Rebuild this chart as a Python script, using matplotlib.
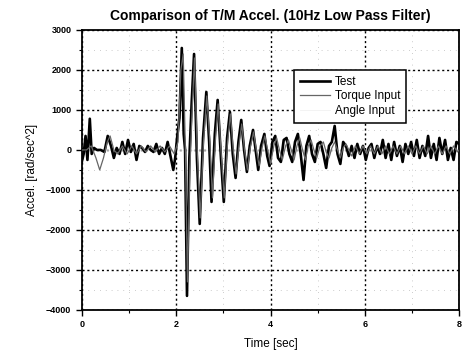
import matplotlib.pyplot as plt
from matplotlib.ticker import MultipleLocator

plt.rcParams['font.family'] = ['Liberation Sans', 'DejaVu Sans']

# Test (thick black line)
test_t = [0.00, 0.04, 0.08, 0.12, 0.17, 0.21, 0.26, 0.32, 0.40, 0.48, 0.55, 0.62, 0.68, 0.74,
          0.80, 0.86, 0.92, 0.98, 1.04, 1.10, 1.16, 1.22, 1.28, 1.34, 1.40, 1.46, 1.52, 1.58,
          1.64, 1.70, 1.76, 1.82, 1.88, 1.94, 1.98, 2.02, 2.07, 2.12, 2.16, 2.19, 2.23, 2.28,
          2.33, 2.38, 2.44, 2.50, 2.57, 2.64, 2.70, 2.75, 2.82, 2.88, 2.95, 3.01, 3.08, 3.14,
          3.20, 3.26, 3.32, 3.38, 3.44, 3.50, 3.56, 3.63, 3.69, 3.74, 3.80, 3.87, 3.93, 3.98,
          4.04, 4.10, 4.16, 4.22, 4.28, 4.34, 4.40, 4.46, 4.52, 4.58, 4.64, 4.70, 4.76, 4.82,
          4.88, 4.94, 5.00, 5.06, 5.12, 5.18, 5.24, 5.30, 5.36, 5.42, 5.48, 5.54, 5.60, 5.66,
          5.72, 5.78, 5.84, 5.90, 5.96, 6.02, 6.08, 6.14, 6.20, 6.26, 6.32, 6.38, 6.44, 6.50,
          6.56, 6.62, 6.68, 6.74, 6.80, 6.86, 6.92, 6.98, 7.04, 7.10, 7.16, 7.22, 7.28, 7.34,
          7.40, 7.46, 7.52, 7.58, 7.64, 7.70, 7.76, 7.82, 7.88, 7.94, 8.00]
test_v = [-300, -100, 350, -250, 780, -100, 50, 0, 0, -50, 350, 100, -200, 50,
          -100, 200, -100, 250, -50, 150, -250, 100, 50, -50, 100, 0, -50, 150,
          -100, 50, -100, 200, -150, -500, -200, 300, 800, 2550, 400, 0, -3650, -200,
          1200, 2400, -200, -1850, 300, 1450, 200, -1300, 400, 1250, -200, -1300, 300, 950,
          -100, -700, 200, 750, 0, -550, 100, 500, -50, -500, 100, 400, -150, -400,
          200, 350, -200, -300, 250, 300, -100, -300, 200, 400, -100, -750, 100, 350,
          -100, -300, 150, 200, -100, -450, 100, 200, 600, -100, -350, 200, 100, -150,
          100, -200, 150, -100, 100, -250, 50, 150, -200, 100, -100, 250, -200, 150,
          -250, 200, -150, 100, -300, 150, -100, 200, -150, 250, -200, 100, -150, 350,
          -200, 150, -250, 300, -100, 250, -250, 50, -250, 200, 150]

# Torque Input (thin gray line)
torque_t = [0.00, 0.10, 0.20, 0.30, 0.38, 0.46, 0.54, 0.60, 0.68, 0.76, 0.86, 0.96, 1.06, 1.16,
            1.26, 1.36, 1.46, 1.56, 1.66, 1.76, 1.86, 1.96, 2.04, 2.10, 2.15, 2.20, 2.24, 2.29,
            2.34, 2.39, 2.45, 2.51, 2.58, 2.65, 2.71, 2.77, 2.83, 2.89, 2.95, 3.02, 3.09, 3.15,
            3.21, 3.27, 3.33, 3.39, 3.45, 3.51, 3.57, 3.64, 3.70, 3.76, 3.82, 3.88, 3.94, 4.00,
            4.07, 4.13, 4.19, 4.25, 4.32, 4.38, 4.44, 4.50, 4.56, 4.62, 4.68, 4.74, 4.80, 4.86,
            4.92, 4.98, 5.05, 5.12, 5.18, 5.24, 5.30, 5.36, 5.42, 5.48, 5.54, 5.60, 5.66, 5.72,
            5.80, 5.88, 5.96, 6.04, 6.12, 6.20, 6.28, 6.36, 6.44, 6.52, 6.60, 6.68, 6.76, 6.84,
            6.92, 7.00, 7.08, 7.16, 7.24, 7.32, 7.40, 7.48, 7.56, 7.64, 7.72, 7.80, 7.88, 7.96,
            8.00]
torque_v = [0, 0, 100, -200, -500, -200, 200, 350, 0, -100, 100, -100, 100, -100,
            100, -50, 100, -50, 100, -50, 100, -100, 200, 2000, 2400, -200, -3300, -500,
            1000, 2300, -100, -1700, 200, 1350, 300, -1200, 200, 1150, 0, -1200, 200, 900,
            0, -600, 100, 650, 0, -500, 50, 450, 0, -400, 50, 350, 0, -350,
            100, 300, 0, -250, 100, 250, 0, -250, 100, 300, 0, -250, 100, 250,
            0, -200, 100, 200, -50, -200, 50, 200, 0, -200, 50, 150, 0, -150,
            100, -100, 100, -100, 100, -100, 100, -100, 100, -100, 100, -100, 100, -100,
            100, -100, 100, -100, 100, -100, 100, -100, 100, -100, 100, -100, 100, -50,
            0]

# Angle Input (barely visible in the scan)
angle_t = [0.0, 2.0, 4.0, 6.0, 8.0]
angle_v = [0, 0, 0, 0, 0]

fig = plt.figure(figsize=(4.62, 3.57), dpi=100)
ax = fig.add_axes([0.177, 0.132, 0.817, 0.784])

ax.plot(angle_t, angle_v, color="#eeeeee", lw=0.5, label="Angle Input", zorder=2)
ax.plot(test_t, test_v, color="black", lw=1.9, label="Test", zorder=3)
ax.plot(torque_t, torque_v, color="#666666", lw=0.9, label="Torque Input", zorder=4)

ax.set_xlim(0, 8)
ax.set_ylim(-4000, 3000)
ax.xaxis.set_major_locator(MultipleLocator(2))
ax.xaxis.set_minor_locator(MultipleLocator(1))
ax.yaxis.set_major_locator(MultipleLocator(1000))
ax.yaxis.set_minor_locator(MultipleLocator(500))

ax.grid(True, which="major", color="black", linestyle=(0, (1.5, 2)), lw=1.0)
ax.grid(True, which="minor", color="#bbbbbb", linestyle=(0, (1, 6)), lw=0.6)
ax.tick_params(which="major", length=4, width=1, labelsize=6.5)
ax.tick_params(which="minor", length=2, width=0.8)
for lab in ax.get_xticklabels() + ax.get_yticklabels():
    lab.set_fontweight("bold")
for s in ax.spines.values():
    s.set_linewidth(1.3)

ax.set_xlabel("Time [sec]", fontsize=8.5, labelpad=6)
ax.set_ylabel("Accel. [rad/sec^2]", fontsize=8.5, labelpad=6)
ax.set_title("Comparison of T/M Accel. (10Hz Low Pass Filter)", fontsize=10, fontweight="bold", pad=7)

h, l = ax.get_legend_handles_labels()
order = [1, 2, 0]
leg = ax.legend([h[i] for i in order], [l[i] for i in order], loc="upper left",
                bbox_to_anchor=(0.546, 0.878), fontsize=8.5, frameon=True, fancybox=False,
                framealpha=1, edgecolor="black", borderpad=0.5, labelspacing=0.2,
                handlelength=2.6, handletextpad=0.4)
leg.get_frame().set_linewidth(1.1)
leg.set_zorder(10)

fig.savefig("out.png", dpi=100)
